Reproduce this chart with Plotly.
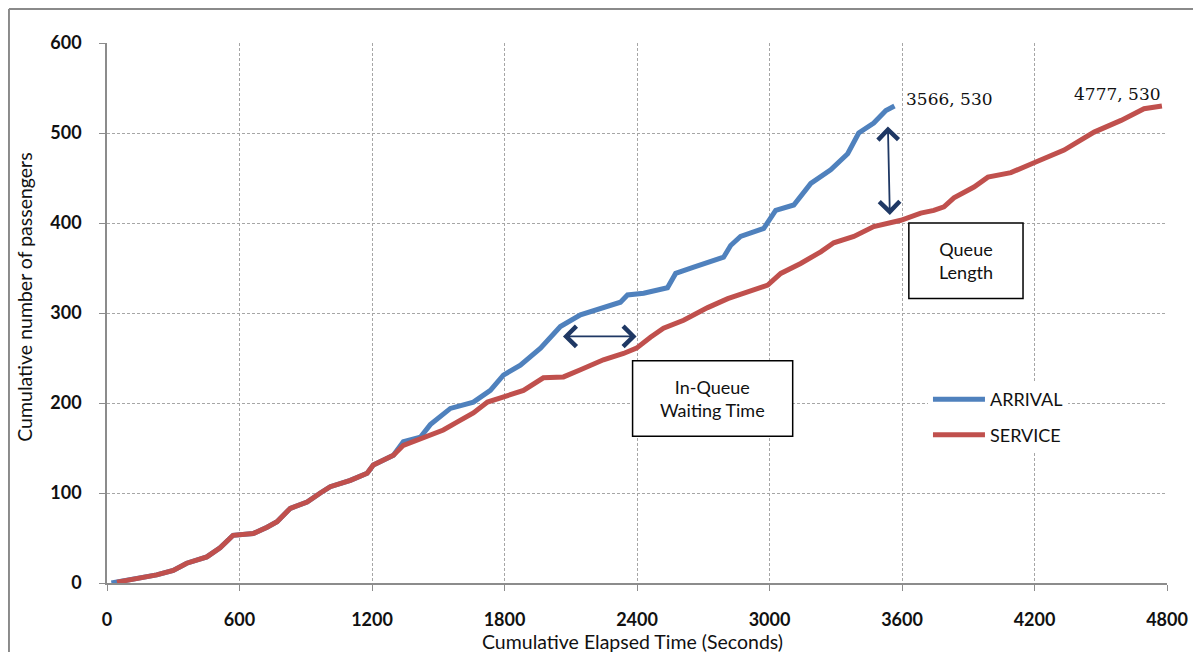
import plotly.graph_objects as go

# cumulative counts
arrival_t = [20, 150, 225, 300, 361, 452, 512, 571, 662, 725, 770, 830, 906, 966, 1011,
             1102, 1178, 1206, 1297, 1342, 1419, 1464, 1555, 1659, 1736, 1795, 1872, 1963,
             2008, 2053, 2144, 2235, 2325, 2357, 2430, 2538, 2575, 2657, 2792, 2824, 2869,
             2974, 3005, 3028, 3110, 3187, 3277, 3354, 3404, 3472, 3527, 3566]
arrival_n = [0, 5, 9, 14, 22, 29, 39, 53, 55, 62, 68, 83, 90, 100, 107,
             114, 122, 131, 142, 157, 162, 176, 194, 201, 214, 231, 242, 261,
             273, 285, 298, 305, 312, 320, 322, 328, 344, 351, 362, 375, 385,
             394, 405, 414, 420, 444, 459, 477, 500, 511, 525, 530]

service_t = [45, 150, 225, 300, 361, 452, 512, 571, 662, 725, 770, 830, 906, 966, 1011,
             1102, 1178, 1206, 1297, 1342, 1432, 1523, 1587, 1659, 1723, 1795, 1886, 1976,
             2067, 2144, 2248, 2339, 2398, 2461, 2520, 2611, 2720, 2811, 2928, 2992, 3051,
             3141, 3232, 3291, 3382, 3472, 3595, 3685, 3744, 3790, 3835, 3926, 3989, 4093,
             4198, 4334, 4470, 4592, 4696, 4777]
service_n = [1, 5, 9, 14, 22, 29, 39, 53, 55, 62, 68, 83, 90, 100, 107,
             114, 122, 131, 142, 153, 162, 170, 179, 189, 201, 207, 214, 228,
             229, 237, 248, 255, 261, 273, 283, 292, 306, 316, 325, 331, 344,
             355, 368, 378, 385, 396, 403, 411, 414, 418, 428, 440, 451, 456,
             467, 481, 501, 514, 527, 530]

x_ticks = [0, 600, 1200, 1800, 2400, 3000, 3600, 4200, 4800]
y_ticks = [0, 100, 200, 300, 400, 500, 600]

font_main = "Lato"
navy = "#1F3864"

fig = go.Figure()

fig.add_trace(go.Scatter(
    x=arrival_t, y=arrival_n, mode="lines", name="ARRIVAL",
    line=dict(color="#4F81BD", width=5), legendgroup="a"
))
fig.add_trace(go.Scatter(
    x=service_t, y=service_n, mode="lines", name="SERVICE",
    line=dict(color="#C0504D", width=5), legendgroup="s"
))

# end-point labels
fig.add_annotation(x=arrival_t[-1], y=arrival_n[-1], text=f"{arrival_t[-1]}, {arrival_n[-1]}",
                   showarrow=False, xanchor="left", yanchor="middle", xshift=10, yshift=7,
                   font=dict(family="DejaVu Serif", size=17, color="#111"))
fig.add_annotation(x=service_t[-1], y=service_n[-1], text=f"{service_t[-1]}, {service_n[-1]}",
                   showarrow=False, xanchor="right", yanchor="middle", xshift=1, yshift=12,
                   font=dict(family="DejaVu Serif", size=17, color="#111"))

# double-headed arrows
fig.add_annotation(x=3545, y=409, ax=3536, ay=509, xref="x", yref="y", axref="x", ayref="y",
                   text="", showarrow=True, arrowside="end+start", arrowhead=4, startarrowhead=4,
                   arrowsize=2.2, startarrowsize=2.2, arrowwidth=1.8, arrowcolor=navy)
fig.add_annotation(x=2398, y=274, ax=2058, ay=274, xref="x", yref="y", axref="x", ayref="y",
                   text="", showarrow=True, arrowside="end+start", arrowhead=4, startarrowhead=4,
                   arrowsize=2.2, startarrowsize=2.2, arrowwidth=1.8, arrowcolor=navy)

# text boxes
fig.add_shape(type="rect", x0=3631, x1=4148, y0=316, y1=400, xref="x", yref="y",
              line=dict(color="black", width=1.5), fillcolor="white")
fig.add_annotation(x=3890, y=358, text="Queue<br>Length", showarrow=False,
                   font=dict(family=font_main, size=18, color="#111"))
fig.add_shape(type="rect", x0=2380, x1=3105, y0=163, y1=247, xref="x", yref="y",
              line=dict(color="black", width=1.5), fillcolor="white")
fig.add_annotation(x=2742, y=205, text="In-Queue<br>Waiting Time", showarrow=False,
                   font=dict(family=font_main, size=18, color="#111"))

# axis titles
fig.add_annotation(x=0.496, y=-0.108, xref="paper", yref="paper", text="Cumulative Elapsed Time (Seconds)",
                   xanchor="center", yanchor="middle",
                   showarrow=False, font=dict(family=font_main, size=19.5, color="#111"))
fig.add_annotation(x=-0.0774, y=0.53, xref="paper", yref="paper", text="Cumulative number of passengers",
                   xanchor="center", yanchor="middle",
                   textangle=-90, showarrow=False, font=dict(family=font_main, size=19.5, color="#111"))

# outer frame (left and top edges)
fig.add_shape(type="line", xref="paper", yref="paper", x0=-0.0925, x1=1.05, y0=1.063, y1=1.063,
              line=dict(color="#8a8a8a", width=2))
fig.add_shape(type="line", xref="paper", yref="paper", x0=-0.0925, x1=-0.0925, y0=-0.15, y1=1.063,
              line=dict(color="#8a8a8a", width=2))

axis_common = dict(
    showgrid=True, gridcolor="#a6a6a6", gridwidth=1, griddash="3px,2px",
    showline=True, linecolor="#8c8c8c", linewidth=1.5,
    ticks="outside", ticklen=6, tickcolor="#8c8c8c",
    tickfont=dict(family=font_main, size=18, color="#111", weight="bold"),
    zeroline=False,
)

fig.update_layout(
    width=1193, height=644,
    margin=dict(l=99, r=34, t=35, b=69),
    paper_bgcolor="white", plot_bgcolor="white",
    xaxis=dict(range=[0, 4800], tickvals=x_ticks, ticklabelstandoff=14, **axis_common),
    yaxis=dict(range=[0, 600], tickvals=y_ticks, ticklabelstandoff=14, **axis_common),
    legend=dict(x=0.7745, y=0.374, xanchor="left", yanchor="top", bgcolor="white",
                itemwidth=52,
                font=dict(family=font_main, size=18, color="#111"), tracegroupgap=9),
    showlegend=True,
)

fig.write_html("out.html")
